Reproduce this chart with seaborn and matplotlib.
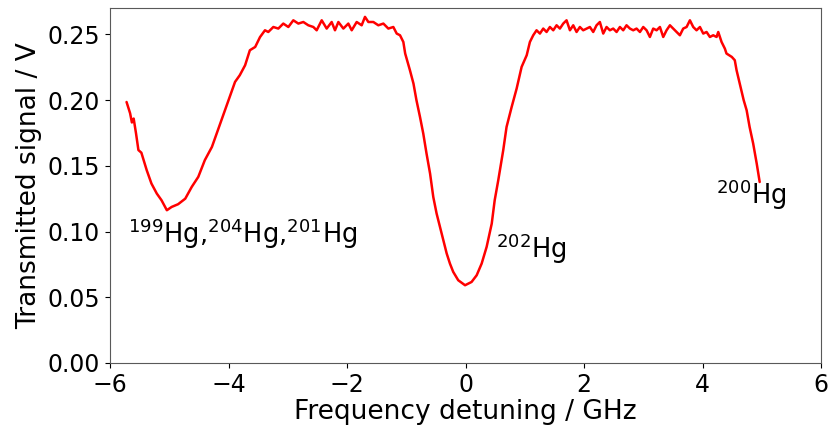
import matplotlib
matplotlib.use('Agg')
import matplotlib.pyplot as plt
import seaborn as sns
import numpy as np

# frequency detuning (GHz) and transmitted signal (V)
detuning = [
    # left dip (199/204/201 Hg)
    -5.72, -5.66, -5.63, -5.60, -5.56, -5.52, -5.47, -5.38, -5.30, -5.21,
    -5.13, -5.04, -4.96, -4.85, -4.73, -4.62, -4.51, -4.40, -4.28, -4.17,
    -4.06, -3.97, -3.89, -3.81, -3.72, -3.64, -3.55,
    # left plateau
    -3.469, -3.385, -3.329, -3.244, -3.160, -3.076, -2.991, -2.907, -2.822, -2.738,
    -2.654, -2.569, -2.513, -2.428, -2.344, -2.260, -2.204, -2.147, -2.063, -1.979,
    -1.922, -1.838, -1.754, -1.698, -1.641, -1.557, -1.473, -1.388, -1.304, -1.220,
    -1.163, -1.107, -1.051,
    # 202Hg dip
    -1.02, -0.94, -0.88, -0.83, -0.77, -0.715, -0.66, -0.60, -0.546, -0.49,
    -0.433, -0.377, -0.32, -0.265, -0.21, -0.125, -0.01, 0.10, 0.186, 0.27,
    0.354, 0.44, 0.49, 0.55, 0.634, 0.69, 0.776, 0.86, 0.944, 1.03,
    # right plateau
    1.084, 1.140, 1.196, 1.253, 1.309, 1.365, 1.421, 1.478, 1.534, 1.590,
    1.646, 1.702, 1.759, 1.815, 1.871, 1.927, 1.983, 2.040, 2.096, 2.152,
    2.208, 2.264, 2.321, 2.377, 2.433, 2.489, 2.546, 2.602, 2.658, 2.714,
    2.771, 2.827, 2.883, 2.940, 2.996, 3.052, 3.108, 3.164, 3.221, 3.277,
    3.333, 3.389, 3.446, 3.502, 3.558, 3.614, 3.670, 3.727, 3.783, 3.839,
    3.895, 3.952, 4.008, 4.064, 4.120, 4.176, 4.233, 4.261, 4.317, 4.373,
    # 200Hg edge
    4.40, 4.49, 4.54, 4.57, 4.63, 4.65, 4.69, 4.74, 4.79, 4.85,
    4.91, 4.96,
]
signal = [
    0.1986, 0.190, 0.183, 0.186, 0.1746, 0.162, 0.160, 0.1467, 0.1365, 0.1289,
    0.1238, 0.1162, 0.1187, 0.1208, 0.125, 0.134, 0.1416, 0.1543, 0.1644, 0.1784,
    0.1923, 0.2037, 0.2139, 0.219, 0.2266, 0.238, 0.2405,
    0.248, 0.2532, 0.2519, 0.2557, 0.2545, 0.2583, 0.2557, 0.2608, 0.2583, 0.2595,
    0.257, 0.2557, 0.2532, 0.2608, 0.2545, 0.2595, 0.2532, 0.2595, 0.2545, 0.2583,
    0.2532, 0.2595, 0.257, 0.2634, 0.2595, 0.2595, 0.257, 0.2583, 0.2545, 0.2557,
    0.2507, 0.2494, 0.2443,
    0.2355, 0.2228, 0.2126, 0.200, 0.1872, 0.1746, 0.1594, 0.1441, 0.1263, 0.1137,
    0.1035, 0.0934, 0.0833, 0.0756, 0.0693, 0.0629, 0.0591, 0.0616, 0.0667, 0.0756,
    0.0883, 0.106, 0.1238, 0.139, 0.1619, 0.1796, 0.1948, 0.2088, 0.2253, 0.2342,
    0.2443, 0.2494, 0.2532, 0.2507, 0.2545, 0.2519, 0.2557, 0.2532, 0.257, 0.2545,
    0.2583, 0.2608, 0.2532, 0.257, 0.2519, 0.2557, 0.2532, 0.2545, 0.2557, 0.2519,
    0.257, 0.2595, 0.2507, 0.2557, 0.2532, 0.2545, 0.2519, 0.2557, 0.2532, 0.257,
    0.2545, 0.2532, 0.2545, 0.2519, 0.2557, 0.2532, 0.2481, 0.2545, 0.2532, 0.2557,
    0.2481, 0.2532, 0.257, 0.2545, 0.2519, 0.2494, 0.2545, 0.2557, 0.2608, 0.2557,
    0.2532, 0.2557, 0.2507, 0.2519, 0.2481, 0.2494, 0.2481, 0.2519, 0.2443, 0.2392,
    0.2355, 0.2329, 0.2304, 0.2228, 0.2113, 0.2075, 0.200, 0.1923, 0.1796, 0.167,
    0.1517, 0.1377,
]

# isotope labels and where they sit (data coords)
labels = [r'$^{199}$Hg,$^{204}$Hg,$^{201}$Hg', r'$^{202}$Hg', r'$^{200}$Hg']
label_x = [-5.7, 0.52, 4.22]
label_y = [0.091, 0.080, 0.121]

sns.set_style('ticks')
plt.rcParams['font.family'] = ['DejaVu Sans']
plt.rcParams['text.color'] = 'black'
plt.rcParams['axes.labelcolor'] = 'black'
plt.rcParams['xtick.color'] = 'black'
plt.rcParams['ytick.color'] = 'black'

fig = plt.figure(figsize=(8.33, 4.32), dpi=100)
ax = fig.add_subplot(111)
fig.subplots_adjust(left=0.132, right=0.986, bottom=0.160, top=0.981)

sns.lineplot(x=detuning, y=signal, color='red', lw=1.8, ax=ax)

for t, x, y in zip(labels, label_x, label_y):
    ax.text(x, y, t, fontsize=18.5)

ax.set_xlim(-6, 6)
ax.set_ylim(0, 0.27)
ax.set_xticks([-6, -4, -2, 0, 2, 4, 6])
ax.set_yticks([0, 0.05, 0.10, 0.15, 0.20, 0.25])
ax.tick_params(labelsize=17)
ax.set_xlabel('Frequency detuning / GHz', fontsize=19, labelpad=2)
ax.set_ylabel('Transmitted signal / V', fontsize=19)
for s in ax.spines.values():
    s.set_color('0.35')

fig.savefig('out.png', dpi=100)
